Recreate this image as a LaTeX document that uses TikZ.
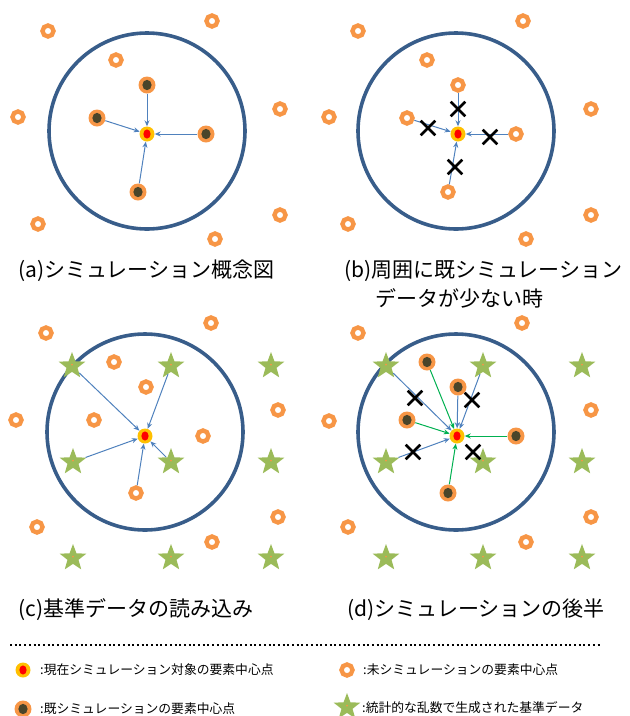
\documentclass[tikz,border=0pt]{standalone}
\usepackage{fontspec}
\setmainfont{Noto Sans CJK JP}
\usepackage{tikz}
\usetikzlibrary{positioning,arrows.meta,shapes.geometric,shapes.misc}
\definecolor{colRing}{RGB}{247,150,70}
\definecolor{colCurOuter}{RGB}{255,192,0}
\definecolor{colCurInner}{RGB}{255,0,0}
\definecolor{colDark}{RGB}{74,69,42}
\definecolor{colStar}{RGB}{155,187,89}
\definecolor{colZone}{RGB}{56,93,138}
\definecolor{colArrBlue}{RGB}{79,129,189}
\definecolor{colArrGreen}{RGB}{0,176,80}

\begin{document}
\begin{tikzpicture}[
  x=1pt, y=-1pt,
  cur/.style={circle, fill=colCurOuter, minimum size=15pt, inner sep=0pt,
    path picture={\fill[colCurInner] (path picture bounding box.center) ellipse (3.6pt and 4.6pt);}},
  done/.style={circle, fill=colRing, minimum size=17pt, inner sep=0pt,
    path picture={\fill[colDark] (path picture bounding box.center) ellipse (4.6pt and 5.2pt);}},
  todo/.style={circle, draw=colRing, line width=4.4pt, minimum size=11pt, inner sep=0pt},
  refstar/.style={star, star points=5, star point ratio=2.4, fill=colStar, minimum size=28pt, inner sep=0pt,
    path picture={\fill[colRing] (path picture bounding box.center) circle (1pt);}},
  xmark/.style={cross out, draw=black, line width=2.6pt, minimum size=12pt, inner sep=0pt},
  zone/.style={circle, draw=colZone, line width=3.6pt, minimum size=196pt, inner sep=0pt},
  panelcap/.style={font=\fontsize{21}{29}\selectfont, inner sep=0pt},
  keytext/.style={font=\fontsize{12.8}{16}\selectfont, inner sep=0pt, anchor=west},
  barr/.style={-{Stealth[length=6pt,width=5pt]}, line width=1pt, colArrBlue},
  garr/.style={-{Stealth[length=6pt,width=5pt]}, line width=1pt, colArrGreen},
  sepline/.style={line width=2pt, dash pattern=on 2pt off 2.7pt}]
  \useasboundingbox (0,0) rectangle (630,716);

  % (a)
  \node[zone] (aZone) at (147,131) {};
  \node[todo] (aR1) at (48,31) {};
  \node[todo] (aR2) at (212,21) {};
  \node[todo] (aR3) at (116,60) {};
  \node[todo] (aR4) at (18,117) {};
  \node[todo] (aR5) at (280,109) {};
  \node[todo] (aR6) at (38,224) {};
  \node[todo] (aR7) at (280,215) {};
  \node[todo] (aR8) at (215,239) {};
  \node[cur]  (aCur) at (147,134) {};
  \node[done] (aD1) at (147,85) {};
  \node[done] (aD2) at (97,118) {};
  \node[done] (aD3) at (206,134) {};
  \node[done] (aD4) at (138,192) {};
  \draw[barr] (aD1) -- (aCur);
  \draw[barr] (aD2) -- (aCur);
  \draw[barr] (aD3) -- (aCur);
  \draw[barr] (aD4) -- (aCur);
  \node[panelcap, anchor=base west] (capA) at (18,277) {(a)シミュレーション概念図};

  % (b)
  \node[zone] (bZone) at (456,131) {};
  \node[todo] (bR1) at (358,31) {};
  \node[todo] (bR2) at (523,21) {};
  \node[todo] (bR3) at (427,60) {};
  \node[todo] (bR4) at (329,117) {};
  \node[todo] (bR5) at (591,109) {};
  \node[todo] (bR6) at (348,224) {};
  \node[todo] (bR7) at (591,215) {};
  \node[todo] (bR8) at (526,239) {};
  \node[cur]  (bCur) at (458,134) {};
  \node[todo] (bN1) at (458,85) {};
  \node[todo] (bN2) at (407,118) {};
  \node[todo] (bN3) at (516,134) {};
  \node[todo] (bN4) at (448,192) {};
  \draw[barr] (bN1) -- (bCur);
  \draw[barr] (bN2) -- (bCur);
  \draw[barr] (bN3) -- (bCur);
  \draw[barr] (bN4) -- (bCur);
  \node[xmark] (bX1) at (458,109) {};
  \node[xmark] (bX2) at (428,128) {};
  \node[xmark] (bX3) at (490,137) {};
  \node[xmark] (bX4) at (455,167) {};
  \node[panelcap, anchor=base west] (capB) at (344,277) {(b)周囲に既シミュレーション};
  \node[panelcap, anchor=base west] (capB2) at (375,306) {データが少ない時};

  % (c)
  \node[zone] (cZone) at (145,432) {};
  \node[todo] (cR1) at (46,333) {};
  \node[todo] (cR2) at (211,323) {};
  \node[todo] (cR3) at (114,362) {};
  \node[todo] (cR4) at (146,387) {};
  \node[todo] (cR5) at (16,420) {};
  \node[todo] (cR6) at (94,420) {};
  \node[todo] (cR7) at (278,410) {};
  \node[todo] (cR8) at (203,436) {};
  \node[todo] (cR9) at (136,493) {};
  \node[todo] (cR10) at (37,527) {};
  \node[todo] (cR11) at (278,517) {};
  \node[todo] (cR12) at (212,542) {};
  \node[refstar] (cS1) at (72,366) {};
  \node[refstar] (cS2) at (171,366) {};
  \node[refstar] (cS3) at (271,366) {};
  \node[refstar] (cS4) at (73,462) {};
  \node[refstar] (cS5) at (171,462) {};
  \node[refstar] (cS6) at (271,462) {};
  \node[refstar] (cS7) at (73,558) {};
  \node[refstar] (cS8) at (171,558) {};
  \node[refstar] (cS9) at (271,558) {};
  \node[cur]  (cCur) at (145,436) {};
  \draw[barr] (cS1) -- (cCur);
  \draw[barr] (cS2) -- (cCur);
  \draw[barr] (cS4) -- (cCur);
  \draw[barr] (cS5) -- (cCur);
  \draw[barr] (cR9) -- (cCur);
  \node[panelcap, anchor=base west] (capC) at (18,616) {(c)基準データの読み込み};

  % (d)
  \node[zone] (dZone) at (456,432) {};
  \node[todo] (dR1) at (358,333) {};
  \node[todo] (dR2) at (522,323) {};
  \node[todo] (dR3) at (329,421) {};
  \node[todo] (dR4) at (591,410) {};
  \node[todo] (dR5) at (348,527) {};
  \node[todo] (dR6) at (591,517) {};
  \node[todo] (dR7) at (526,542) {};
  \node[refstar] (dS1) at (386,366) {};
  \node[refstar] (dS2) at (483,366) {};
  \node[refstar] (dS3) at (582,366) {};
  \node[refstar] (dS4) at (386,462) {};
  \node[refstar] (dS5) at (483,462) {};
  \node[refstar] (dS6) at (582,462) {};
  \node[refstar] (dS7) at (386,558) {};
  \node[refstar] (dS8) at (483,558) {};
  \node[refstar] (dS9) at (582,558) {};
  \node[cur]  (dCur) at (457,436) {};
  \node[done] (dD1) at (427,362) {};
  \node[done] (dD2) at (458,387) {};
  \node[done] (dD3) at (407,420) {};
  \node[done] (dD4) at (516,436) {};
  \node[done] (dD5) at (448,493) {};
  \draw[barr] (dS1) -- (dCur);
  \draw[barr] (dS2) -- (dCur);
  \draw[barr] (dS4) -- (dCur);
  \draw[barr] (dD2) -- (dCur);
  \draw[garr] (dD1) -- (dCur);
  \draw[garr] (dD3) -- (dCur);
  \draw[garr] (dD4) -- (dCur);
  \draw[garr] (dD5) -- (dCur);
  \node[xmark] (dX1) at (415,398) {};
  \node[xmark] (dX2) at (472,400) {};
  \node[xmark] (dX3) at (413,452) {};
  \node[xmark] (dX4) at (473,452) {};
  \node[panelcap, anchor=base west] (capD) at (347,616) {(d)シミュレーションの後半};

  % legend
  \coordinate (sepL) at (10,645);
  \coordinate (sepR) at (602,645);
  \draw[sepline] (sepL) -- (sepR);
  \node[cur] (kCur) at (23,670) {};
  \node[keytext] (kCurT) at (40,670) {:現在シミュレーション対象の要素中心点};
  \node[done] (kDone) at (23,709) {};
  \node[keytext] (kDoneT) at (40,709) {:既シミュレーションの要素中心点};
  \node[todo] (kTodo) at (347,670) {};
  \node[keytext] (kTodoT) at (363,670) {:未シミュレーションの要素中心点};
  \node[refstar] (kStar) at (347,707) {};
  \node[keytext] (kStarT) at (362,708) {:統計的な乱数で生成された基準データ};
\end{tikzpicture}
\end{document}
